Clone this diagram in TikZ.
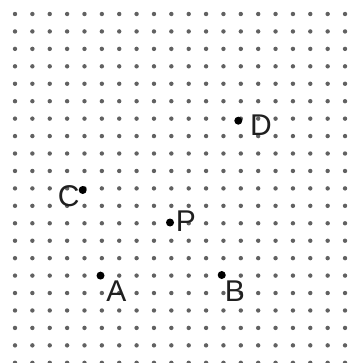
\documentclass[tikz,border=0pt]{standalone}
\usepackage{fontspec}
\setmainfont{Liberation Sans}
\begin{document}
\begin{tikzpicture}[x=1pt,y=-1pt,
  griddot/.style={circle,fill=black!62,inner sep=0pt,minimum size=4.4pt},
  ptdot/.style={circle,fill=black,inner sep=0pt,minimum size=8pt},
  lbl/.style={inner sep=0pt,font=\fontsize{30}{30}\selectfont,text=black!88}]
\useasboundingbox (0,0) rectangle (360,363);
\clip (0,0) rectangle (360,363);
\fill[white] (0,0) rectangle (360,363);
\foreach \i in {0,...,19}{
  \foreach \j in {0,...,20}{
    \node[griddot] (g-\i-\j) at ({15+17.37*\i},{14+17.44*\j}) {};
  }
}
\node[ptdot] (A) at (100.5,275.6) {};
\node[ptdot] (B) at (221.7,275) {};
\node[ptdot] (C) at (82.7,190) {};
\node[ptdot] (D) at (238.3,120.7) {};
\node[ptdot] (P) at (170,222.5) {};
\node[lbl] (lA) at (116.4,291.2) {A};
\node[lbl] (lB) at (235,291) {B};
\node[lbl] (lC) at (68.8,196) {C};
\node[lbl] (lD) at (261,124.7) {D};
\node[lbl] (lP) at (186,221) {P};
\end{tikzpicture}
\end{document}
